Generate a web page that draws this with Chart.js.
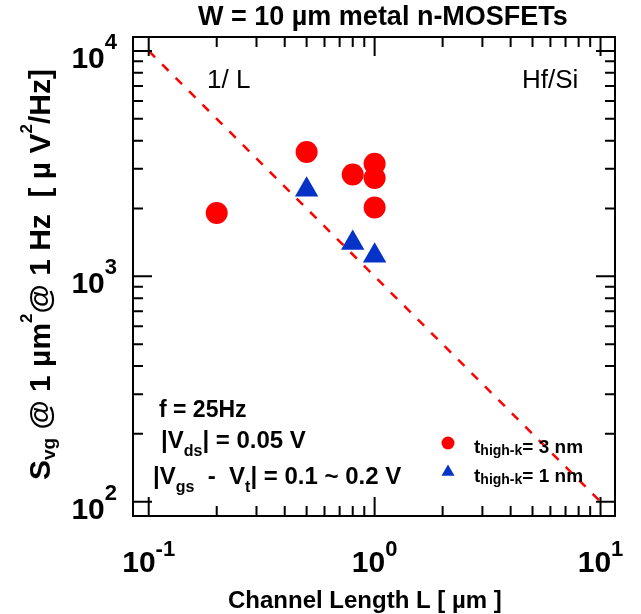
<!DOCTYPE html>
<html lang="en">
<head>
<meta charset="UTF-8">
<title>Svg vs channel length</title>
<script src="https://cdn.jsdelivr.net/npm/chart.js@4.4.0/dist/chart.umd.min.js"></script>
<style>
  body { margin: 0; background: #fff; }
  #wrap { width: 641px; height: 614px; }
</style>
</head>
<body>
<div id="wrap"><canvas id="myChart" width="641" height="614"></canvas></div>
<script>
// t_high-k = 3 nm (red circles)
const thick3L = [0.2, 0.5, 0.8, 1.0, 1.0, 1.0];
const thick3S = [1910, 3560, 2830, 3160, 2730, 2020];
// t_high-k = 1 nm (blue triangles)
const thick1L = [0.5, 0.8, 1.0];
const thick1S = [2420, 1405, 1233];
// 1/L guide line
const guideL = [0.1, 10];
const guideS = [10000, 100];

const xTicks = [0.1, 1, 10];
const xTickExp = ['-1', '0', '1'];
const yTicks = [100, 1000, 10000];
const yTickExp = ['2', '3', '4'];

const RED = '#ff0000';
const BLUE = '#0533c8';
const FONT = '"Liberation Sans", Arial, Helvetica, sans-serif';

const toXY = (xs, ys) => xs.map((v, i) => ({x: v, y: ys[i]}));

// draw a run of text pieces: [text, size, dy, weight]
function rich(ctx, parts, x, y, measureOnly) {
    let cx = x;
    parts.forEach(p => {
        ctx.font = (p[3] || 'bold') + ' ' + p[1] + 'px ' + FONT;
        if (!measureOnly) ctx.fillText(p[0], cx, y + (p[2] || 0));
        cx += ctx.measureText(p[0]).width;
    });
    return cx - x;
}

const decor = {
    id: 'decor',
    afterDatasetsDraw(chart) {
        const {ctx, chartArea: a, scales: {x, y}} = chart;
        ctx.save();
        ctx.strokeStyle = '#000';
        ctx.fillStyle = '#000';
        ctx.lineWidth = 2;
        ctx.strokeRect(a.left, a.top, a.right - a.left, a.bottom - a.top);

        // inward ticks on all four sides
        ctx.beginPath();
        const major = 19, minor = 10;
        const xt = [], yt = [];
        [0.1, 1].forEach(d => { for (let k = 1; k <= 9; k++) xt.push([d * k, k === 1]); });
        xt.push([10, true]);
        [100, 1000].forEach(d => { for (let k = 1; k <= 9; k++) yt.push([d * k, k === 1]); });
        yt.push([10000, true]);
        xt.forEach(([v, m]) => {
            const px = x.getPixelForValue(v), len = m ? major : minor;
            ctx.moveTo(px, a.bottom); ctx.lineTo(px, a.bottom - len);
            ctx.moveTo(px, a.top); ctx.lineTo(px, a.top + len);
        });
        yt.forEach(([v, m]) => {
            const py = y.getPixelForValue(v), len = m ? major : minor;
            ctx.moveTo(a.left, py); ctx.lineTo(a.left + len, py);
            ctx.moveTo(a.right, py); ctx.lineTo(a.right - len, py);
        });
        ctx.stroke();

        // tick labels 10^n
        ctx.textAlign = 'left';
        ctx.textBaseline = 'alphabetic';
        xTicks.forEach((v, i) => {
            const parts = [['10', 30], [xTickExp[i], 22, -16]];
            const w = rich(ctx, parts, 0, 0, true);
            rich(ctx, parts, x.getPixelForValue(v) - w / 2, a.bottom + 56);
        });
        yTicks.forEach((v, i) => {
            const parts = [['10', 30], [yTickExp[i], 22, -19]];
            const w = rich(ctx, parts, 0, 0, true);
            rich(ctx, parts, a.left - 16 - w, y.getPixelForValue(v) + 17);
        });

        // title and axis titles
        rich(ctx, [['W = 10 µm metal n-MOSFETs', 27]], 198, 25);
        rich(ctx, [['Channel Length L [ µm ]', 24]], 228, 608);
        ctx.save();
        ctx.translate(50, 480);
        ctx.rotate(-Math.PI / 2);
        rich(ctx, [['S', 30], ['vg', 19, 5], [' @ 1 µm', 30], ['2', 17, -18],
                   ['@ 1 Hz  [ µ V', 30], ['2', 17, -18], ['/Hz]', 30]], 0, 0);
        ctx.restore();

        // in-plot notes
        rich(ctx, [['1/ L', 26, 0, 'normal']], 207, 88);
        rich(ctx, [['Hf/Si', 26, 0, 'normal']], 522, 88);
        rich(ctx, [['f = 25Hz', 23]], 159, 417);
        rich(ctx, [['|V', 24], ['ds', 16, 8], ['| = 0.05 V', 24]], 161, 448);
        rich(ctx, [['|V', 24], ['gs', 16, 8], ['  -  V', 24], ['t', 16, 8], ['| = 0.1 ~ 0.2 V', 24]], 153, 484);

        // legend
        ctx.fillStyle = RED;
        ctx.beginPath();
        ctx.arc(448, 443, 6.5, 0, Math.PI * 2);
        ctx.fill();
        ctx.fillStyle = BLUE;
        ctx.beginPath();
        const r = 7.5, cy = 472;
        ctx.moveTo(448, cy - r);
        ctx.lineTo(448 + r * 0.866, cy + r / 2);
        ctx.lineTo(448 - r * 0.866, cy + r / 2);
        ctx.closePath();
        ctx.fill();
        ctx.fillStyle = '#000';
        rich(ctx, [['t', 19], ['high-k', 14, 2], ['= 3 nm', 19]], 474, 453);
        rich(ctx, [['t', 19], ['high-k', 14, 2], ['= 1 nm', 19]], 474, 482);
        ctx.restore();
    }
};

new Chart(document.getElementById('myChart').getContext('2d'), {
    type: 'scatter',
    data: {
        datasets: [{
            label: 't_high-k = 3 nm',
            data: toXY(thick3L, thick3S),
            pointStyle: 'circle',
            pointRadius: 11,
            backgroundColor: RED,
            borderWidth: 0
        }, {
            label: 't_high-k = 1 nm',
            data: toXY(thick1L, thick1S),
            pointStyle: 'triangle',
            pointRadius: 13.5,
            backgroundColor: BLUE,
            borderWidth: 0
        }, {
            type: 'line',
            label: '1/L',
            data: toXY(guideL, guideS),
            borderColor: RED,
            borderWidth: 2.5,
            borderDash: [9, 10],
            pointRadius: 0,
            fill: false
        }]
    },
    options: {
        responsive: false,
        animation: false,
        layout: { padding: { left: 133, top: 37, right: 26, bottom: 98 } },
        plugins: { legend: { display: false }, tooltip: { enabled: false } },
        scales: {
            x: { type: 'logarithmic', min: 0.0852, max: 11.59, display: false },
            y: { type: 'logarithmic', min: 86.4, max: 11535, display: false }
        }
    },
    plugins: [decor]
});
</script>
</body>
</html>
